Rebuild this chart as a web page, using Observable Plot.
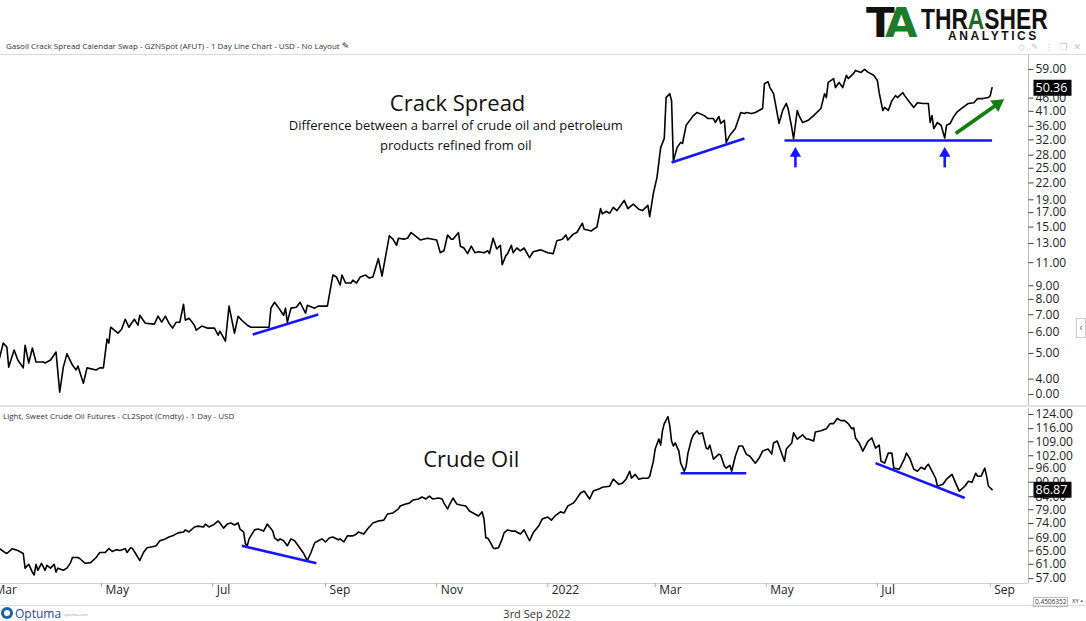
<!DOCTYPE html>
<html>
<head>
<meta charset="utf-8">
<script src="https://cdn.jsdelivr.net/npm/d3@7"></script>
<script src="https://cdn.jsdelivr.net/npm/@observablehq/plot@0.6"></script>
<style>
  body { margin: 0; background: #fff; font-family: "Open Sans", sans-serif; }
  #root { position: relative; width: 1086px; height: 621px; overflow: hidden; background: #fff; }
  .abs { position: absolute; white-space: nowrap; }
  .panel-title { font-size: 8px; color: #333; }
  .hline { position: absolute; left: 0; width: 1086px; height: 1px; background: #dcdcdc; }
  #topChart svg, #bottomChart svg { overflow: visible; }
</style>
</head>
<body>
<div id="root">
  <!-- header -->
  <div class="abs" style="left:866px;top:3px;font:bold 40px 'DejaVu Sans';letter-spacing:-6px;line-height:40px;transform:scaleX(1.05);transform-origin:left top;">
    <span style="color:#111">T</span><span style="color:#1f7a2a">A</span>
  </div>
  <div class="abs" style="left:921px;top:3px;font:bold 30px 'Liberation Sans';line-height:32px;transform:scaleX(0.76);transform-origin:left top;color:#111;">THR<span style="color:#1f6a2a">A</span>SHER</div>
  <div class="abs" style="left:948px;top:29px;font:bold 12px 'Liberation Sans';letter-spacing:2.6px;color:#111;">ANALYTICS</div>
  <div class="abs" style="left:1018px;top:42px;font:9px 'DejaVu Sans';color:#c4c4c4;letter-spacing:6px;">◇✎⋮❐✕</div>
  <div class="abs panel-title" style="left:6px;top:40px;">Gasoil Crack Spread Calendar Swap - GZNSpot (AFUT) - 1 Day Line Chart - USD - No Layout <span style="font-family:'DejaVu Sans';font-size:9px;color:#222">✎</span></div>
  <div class="hline" style="top:54px;"></div>

  <div id="topChart" class="abs" style="left:0;top:55px;"></div>
  <div class="hline" style="top:405px;height:2px;background:#e2e2e2;"></div>
  <div id="bottomChart" class="abs" style="left:0;top:408px;"></div>
  <div class="abs panel-title" style="left:3px;top:410px;">Light, Sweet Crude Oil Futures - CL2Spot (Cmdty) - 1 Day - USD</div>

  <div class="abs" style="left:1076px;top:318px;width:8px;height:18px;border:1px solid #ccc;font:10px 'DejaVu Sans';color:#555;text-align:center;line-height:18px;">‹</div>

  <div class="hline" style="top:605px;"></div>
  <div class="abs" style="left:1033px;top:597px;border:1px solid #bbb;font:6.5px 'Open Sans';color:#333;padding:0 1px;line-height:8px;">0.4506352</div>
  <div class="abs" style="left:1072px;top:597px;font:6px 'Open Sans';color:#333;line-height:8px;">XY ▪</div>

  <!-- footer -->
  <div class="abs" style="left:1px;top:607px;width:12px;height:12px;border-radius:6px;background:#1f5fa8;"></div>
  <div class="abs" style="left:4px;top:610px;width:6px;height:6px;border-radius:3px;background:#fff;"></div>
  <div class="abs" style="left:15px;top:605px;font:12px 'Open Sans';color:#1b4c8c;">Optuma</div>
  <div class="abs" style="left:64px;top:612px;font:4px 'Open Sans';color:#999;">optuma.com</div>
  <div class="abs" style="left:537px;top:606px;transform:translateX(-50%);font:11px 'Open Sans';color:#333;">3rd Sep 2022</div>
</div>

<script>
// ---------------- DATA ----------------
const xDomain = ["2021-03-06T12:00:00Z", "2022-09-22T00:00:00Z"];

const xTicks = ["2021-03-01","2021-05-01","2021-07-01","2021-09-01","2021-11-01","2022-01-01","2022-03-01","2022-05-01","2022-07-01","2022-09-01"];
const xTickLabels = ["Mar","May","Jul","Sep","Nov","2022","Mar","May","Jul","Sep"];

const crackDomain = [3.18, 66.6];
const crackTicks = [59,46,41,36,32,28,25,22,19,17,15,13,11,9,8,7,6,5,4,3.5];
const crackTickLabels = ["59.00","46.00","41.00","36.00","32.00","28.00","25.00","22.00","19.00","17.00","15.00","13.00","11.00","9.00","8.00","7.00","6.00","5.00","4.00","0.00"];

const crudeDomain = [55.7, 127.6];
const crudeTicks = [124,116,109,102,96,90,84,79,74,69,65,61,57];
const crudeTickLabels = ["124.00","116.00","109.00","102.00","96.00","90.00","84.00","79.00","74.00","69.00","65.00","61.00","57.00"];

// Gasoil crack spread (date, USD)
const crackSpread = [
["2021-03-06",4.81],["2021-03-08",5.47],["2021-03-10",5.28],["2021-03-11",4.44],["2021-03-14",5.15],
["2021-03-16",4.72],["2021-03-19",4.41],["2021-03-20",5.37],["2021-03-22",4.60],["2021-03-24",5.24],
["2021-03-26",4.64],["2021-03-30",4.64],["2021-03-31",4.60],["2021-04-03",4.72],["2021-04-06",5.06],
["2021-04-08",3.57],["2021-04-10",4.44],["2021-04-12",4.98],["2021-04-15",4.52],["2021-04-17",4.33],
["2021-04-18",4.48],["2021-04-21",3.86],["2021-04-23",4.41],["2021-04-28",4.33],["2021-04-30",4.41],
["2021-05-02",4.41],["2021-05-04",5.66],["2021-05-05",5.47],["2021-05-06",6.28],["2021-05-10",5.96],
["2021-05-12",6.17],["2021-05-14",6.73],["2021-05-16",6.28],["2021-05-19",6.73],["2021-05-21",6.39],
["2021-05-22",6.97],["2021-05-25",6.50],["2021-05-30",6.45],["2021-06-01",6.91],["2021-06-03",6.56],
["2021-06-05",6.91],["2021-06-07",6.50],["2021-06-09",6.23],["2021-06-11",6.56],["2021-06-13",6.56],
["2021-06-15",7.67],["2021-06-16",6.67],["2021-06-18",6.79],["2021-06-21",6.39],["2021-06-22",6.12],
["2021-06-25",6.34],["2021-06-28",6.23],["2021-07-02",6.23],["2021-07-04",5.86],["2021-07-05",6.07],
["2021-07-08",5.56],["2021-07-10",7.54],["2021-07-13",5.96],["2021-07-15",6.91],["2021-07-17",6.67],
["2021-07-20",6.39],["2021-07-22",6.28],["2021-07-25",6.28],["2021-07-29",6.28],["2021-08-01",6.28],
["2021-08-02",7.41],["2021-08-04",7.80],["2021-08-06",7.47],["2021-08-09",6.97],["2021-08-10",7.41],
["2021-08-11",6.56],["2021-08-13",7.41],["2021-08-16",7.47],["2021-08-18",7.80],["2021-08-21",7.09],
["2021-08-22",7.60],["2021-08-26",7.41],["2021-08-28",7.54],["2021-09-02",7.54],["2021-09-05",9.88],
["2021-09-07",9.71],["2021-09-09",9.06],["2021-09-10",9.88],["2021-09-12",9.22],["2021-09-15",9.22],
["2021-09-16",9.46],["2021-09-18",9.22],["2021-09-20",9.71],["2021-09-23",9.88],["2021-09-25",9.63],
["2021-09-27",9.71],["2021-09-30",11.4],["2021-10-02",9.80],["2021-10-06",13.9],["2021-10-08",13.5],
["2021-10-10",12.8],["2021-10-11",13.6],["2021-10-14",13.5],["2021-10-16",13.6],["2021-10-18",14.3],
["2021-10-22",13.6],["2021-10-23",13.4],["2021-10-27",13.6],["2021-11-01",13.4],["2021-11-03",12.0],
["2021-11-05",12.2],["2021-11-07",14.0],["2021-11-09",13.5],["2021-11-10",13.5],["2021-11-13",14.3],
["2021-11-14",12.7],["2021-11-16",12.5],["2021-11-18",11.9],["2021-11-20",12.7],["2021-11-22",12.0],
["2021-11-24",12.1],["2021-11-27",12.0],["2021-11-29",12.2],["2021-11-30",11.9],["2021-12-02",13.6],
["2021-12-04",12.4],["2021-12-06",12.8],["2021-12-07",10.8],["2021-12-09",11.7],["2021-12-10",11.9],
["2021-12-12",12.8],["2021-12-13",12.0],["2021-12-15",12.5],["2021-12-17",12.2],["2021-12-19",12.5],
["2021-12-22",11.5],["2021-12-24",12.1],["2021-12-28",12.3],["2022-01-01",12.0],["2022-01-04",11.9],
["2022-01-06",13.3],["2022-01-09",13.5],["2022-01-11",14.0],["2022-01-12",13.4],["2022-01-15",14.1],
["2022-01-17",14.3],["2022-01-20",15.5],["2022-01-21",14.7],["2022-01-25",14.5],["2022-01-26",14.7],
["2022-01-28",15.0],["2022-01-30",17.6],["2022-01-31",16.8],["2022-02-02",17.2],["2022-02-04",16.9],
["2022-02-06",17.8],["2022-02-08",17.3],["2022-02-12",18.9],["2022-02-14",17.6],["2022-02-17",18.3],
["2022-02-20",17.5],["2022-02-22",17.3],["2022-02-25",18.1],["2022-02-26",16.4],["2022-02-28",20.1],
["2022-03-02",23.1],["2022-03-04",29.9],["2022-03-06",32.4],["2022-03-07",46.2],["2022-03-09",47.8],
["2022-03-10",45.0],["2022-03-11",26.6],["2022-03-13",29.9],["2022-03-15",31.3],["2022-03-16",31.0],
["2022-03-18",36.3],["2022-03-20",37.9],["2022-03-22",39.5],["2022-03-24",40.6],["2022-03-28",39.5],
["2022-03-30",38.5],["2022-04-02",38.5],["2022-04-03",37.2],["2022-04-05",39.2],["2022-04-06",36.9],
["2022-04-08",37.9],["2022-04-09",31.3],["2022-04-11",33.3],["2022-04-14",35.3],["2022-04-17",40.6],
["2022-04-19",40.2],["2022-04-20",40.6],["2022-04-23",40.2],["2022-04-25",40.6],["2022-04-29",42.0],
["2022-04-30",52.1],["2022-05-02",53.1],["2022-05-03",50.4],["2022-05-05",47.8],["2022-05-06",43.9],
["2022-05-08",36.9],["2022-05-10",41.3],["2022-05-12",43.9],["2022-05-13",42.0],["2022-05-15",35.6],
["2022-05-16",32.3],["2022-05-18",41.3],["2022-05-19",39.5],["2022-05-21",37.2],["2022-05-24",37.9],
["2022-05-27",39.5],["2022-05-31",42.0],["2022-06-02",47.8],["2022-06-03",46.2],["2022-06-04",52.7],
["2022-06-07",54.5],["2022-06-08",50.4],["2022-06-10",52.7],["2022-06-12",50.4],["2022-06-14",56.1],
["2022-06-15",54.5],["2022-06-18",57.0],["2022-06-19",58.5],["2022-06-22",57.5],["2022-06-24",59.0],
["2022-06-26",57.5],["2022-06-29",56.1],["2022-07-01",53.6],["2022-07-02",48.2],["2022-07-04",41.3],
["2022-07-05",42.4],["2022-07-07",41.3],["2022-07-09",45.0],["2022-07-11",47.0],["2022-07-12",46.2],
["2022-07-15",48.2],["2022-07-16",47.0],["2022-07-18",45.0],["2022-07-21",42.4],["2022-07-23",44.2],
["2022-07-26",43.9],["2022-07-29",43.9],["2022-07-30",37.2],["2022-07-31",39.5],["2022-08-01",35.3],
["2022-08-03",37.2],["2022-08-05",36.3],["2022-08-07",32.5],["2022-08-08",36.3],["2022-08-10",36.9],
["2022-08-12",39.2],["2022-08-14",40.9],["2022-08-17",42.4],["2022-08-20",43.9],["2022-08-23",44.2],
["2022-08-25",45.8],["2022-08-28",45.8],["2022-08-31",46.2],["2022-09-01",47.0],["2022-09-02",50.36]
];

// Light sweet crude oil futures (date, USD)
const crudeOil = [
["2021-03-06",65.7],["2021-03-09",64.5],["2021-03-10",64.2],["2021-03-13",65.7],["2021-03-16",65.1],
["2021-03-19",64.2],["2021-03-20",59.9],["2021-03-22",61.0],["2021-03-24",58.8],["2021-03-25",58.0],
["2021-03-26",61.0],["2021-03-27",59.3],["2021-03-29",61.3],["2021-03-31",59.3],["2021-04-01",60.7],
["2021-04-03",59.9],["2021-04-05",61.0],["2021-04-06",58.8],["2021-04-07",59.9],["2021-04-10",59.3],
["2021-04-12",59.9],["2021-04-14",61.5],["2021-04-15",63.0],["2021-04-18",63.0],["2021-04-19",62.7],
["2021-04-22",61.3],["2021-04-25",61.5],["2021-04-28",63.0],["2021-04-30",64.5],["2021-05-03",64.5],
["2021-05-05",65.7],["2021-05-07",64.8],["2021-05-09",65.4],["2021-05-11",65.1],["2021-05-14",65.7],
["2021-05-15",64.5],["2021-05-17",66.0],["2021-05-18",65.7],["2021-05-20",63.9],["2021-05-22",62.1],
["2021-05-24",64.5],["2021-05-26",66.0],["2021-05-29",66.3],["2021-05-31",66.6],["2021-06-02",68.2],
["2021-06-05",68.8],["2021-06-07",69.4],["2021-06-09",69.8],["2021-06-12",70.8],["2021-06-15",71.1],
["2021-06-16",71.8],["2021-06-18",71.1],["2021-06-21",72.8],["2021-06-23",73.1],["2021-06-26",72.8],
["2021-06-27",73.8],["2021-06-29",72.8],["2021-07-02",73.8],["2021-07-04",74.9],["2021-07-05",74.2],
["2021-07-07",72.4],["2021-07-09",73.8],["2021-07-11",74.2],["2021-07-13",73.5],["2021-07-15",74.2],
["2021-07-16",72.1],["2021-07-18",71.1],["2021-07-19",67.2],["2021-07-20",66.6],["2021-07-21",68.8],
["2021-07-24",71.8],["2021-07-26",72.1],["2021-07-29",71.4],["2021-07-31",73.8],["2021-08-03",71.4],
["2021-08-04",69.1],["2021-08-06",68.2],["2021-08-07",68.8],["2021-08-09",68.2],["2021-08-11",66.6],
["2021-08-13",68.8],["2021-08-15",68.2],["2021-08-17",66.6],["2021-08-20",64.2],["2021-08-22",62.1],
["2021-08-24",64.5],["2021-08-26",67.5],["2021-08-28",68.2],["2021-08-30",68.8],["2021-09-01",67.8],
["2021-09-03",69.1],["2021-09-05",69.4],["2021-09-08",68.5],["2021-09-09",68.8],["2021-09-11",67.8],
["2021-09-13",69.8],["2021-09-16",69.8],["2021-09-18",70.4],["2021-09-19",71.1],["2021-09-22",70.4],
["2021-09-24",72.1],["2021-09-27",74.2],["2021-09-30",74.9],["2021-10-03",75.2],["2021-10-05",77.4],
["2021-10-08",77.8],["2021-10-11",79.3],["2021-10-12",80.4],["2021-10-15",81.2],["2021-10-17",81.5],
["2021-10-19",82.7],["2021-10-22",83.1],["2021-10-24",83.9],["2021-10-26",83.1],["2021-10-28",84.3],
["2021-10-30",83.1],["2021-11-02",83.5],["2021-11-04",83.1],["2021-11-05",81.5],["2021-11-07",79.3],
["2021-11-08",80.8],["2021-11-10",83.5],["2021-11-12",81.2],["2021-11-14",80.8],["2021-11-17",80.4],
["2021-11-19",78.5],["2021-11-21",77.8],["2021-11-24",76.7],["2021-11-26",78.2],["2021-11-27",75.6],
["2021-11-28",69.1],["2021-11-29",69.1],["2021-11-30",68.2],["2021-12-02",66.0],["2021-12-03",65.7],
["2021-12-05",66.0],["2021-12-07",68.8],["2021-12-08",70.8],["2021-12-10",71.8],["2021-12-12",71.4],
["2021-12-14",71.4],["2021-12-17",70.4],["2021-12-19",71.8],["2021-12-22",68.2],["2021-12-24",70.8],
["2021-12-27",73.1],["2021-12-29",75.6],["2022-01-01",76.3],["2022-01-03",75.2],["2022-01-05",76.7],
["2022-01-08",78.2],["2022-01-10",77.8],["2022-01-12",80.4],["2022-01-15",81.5],["2022-01-16",82.3],
["2022-01-19",85.5],["2022-01-21",86.3],["2022-01-24",83.1],["2022-01-26",86.3],["2022-01-29",87.1],
["2022-01-31",87.9],["2022-02-04",88.3],["2022-02-06",91.3],["2022-02-09",89.1],["2022-02-11",89.6],
["2022-02-13",91.3],["2022-02-15",94.8],["2022-02-16",91.7],["2022-02-18",93.4],["2022-02-20",91.3],
["2022-02-22",91.7],["2022-02-25",91.7],["2022-02-26",92.6],["2022-02-28",99.4],["2022-03-01",105.3],
["2022-03-03",110.4],["2022-03-04",107.3],["2022-03-05",114.8],["2022-03-06",118.8],["2022-03-08",122.8],
["2022-03-09",117.7],["2022-03-10",109.4],["2022-03-11",106.8],["2022-03-12",108.4],["2022-03-14",104.3],
["2022-03-15",98.5],["2022-03-17",94.8],["2022-03-18",97.1],["2022-03-19",103.3],["2022-03-21",110.4],
["2022-03-22",112.6],["2022-03-24",114.8],["2022-03-25",113.1],["2022-03-27",113.7],["2022-03-29",105.8],
["2022-03-30",105.3],["2022-03-31",107.3],["2022-04-02",100.4],["2022-04-05",102.8],["2022-04-06",102.3],
["2022-04-08",97.1],["2022-04-09",96.2],["2022-04-11",97.5],["2022-04-12",94.8],["2022-04-14",101.8],
["2022-04-16",106.8],["2022-04-18",106.8],["2022-04-20",102.8],["2022-04-22",101.8],["2022-04-25",98.5],
["2022-04-27",100.8],["2022-04-29",104.3],["2022-05-02",105.3],["2022-05-04",102.8],["2022-05-05",108.4],
["2022-05-07",109.4],["2022-05-11",99.4],["2022-05-12",105.3],["2022-05-15",108.4],["2022-05-16",113.7],
["2022-05-18",110.4],["2022-05-21",112.6],["2022-05-23",110.4],["2022-05-24",110.4],["2022-05-27",109.4],
["2022-05-28",114.2],["2022-05-31",114.8],["2022-06-03",115.9],["2022-06-05",118.8],["2022-06-07",118.8],
["2022-06-09",121.7],["2022-06-11",120.5],["2022-06-13",120.5],["2022-06-15",118.8],["2022-06-17",115.9],
["2022-06-18",116.5],["2022-06-19",111.0],["2022-06-21",108.4],["2022-06-23",104.3],["2022-06-26",109.4],
["2022-06-28",111.0],["2022-06-29",108.4],["2022-06-30",105.8],["2022-07-02",107.3],["2022-07-03",99.4],
["2022-07-05",98.5],["2022-07-07",103.3],["2022-07-09",103.3],["2022-07-10",96.2],["2022-07-13",95.7],
["2022-07-16",100.8],["2022-07-17",103.3],["2022-07-19",100.4],["2022-07-21",95.7],["2022-07-23",94.8],
["2022-07-25",96.6],["2022-07-27",95.7],["2022-07-28",97.1],["2022-07-29",98.0],["2022-07-31",94.8],
["2022-08-02",91.7],["2022-08-03",88.3],["2022-08-06",89.1],["2022-08-08",91.3],["2022-08-11",93.4],
["2022-08-13",89.6],["2022-08-15",86.3],["2022-08-18",88.3],["2022-08-20",90.4],["2022-08-22",90.0],
["2022-08-24",93.9],["2022-08-25",92.6],["2022-08-27",92.6],["2022-08-29",96.2],["2022-08-30",92.6],
["2022-08-31",88.3],["2022-09-02",86.87]
];

// Annotations (data coordinates)
const crackTrendLines = [
  {x1:"2021-07-23", y1:5.89, x2:"2021-08-28", y2:7.01},
  {x1:"2022-03-10", y1:26.3, x2:"2022-04-19", y2:32.4},
  {x1:"2022-05-11", y1:31.8, x2:"2022-09-02", y2:31.8}
];
const crackUpArrows = [
  {date:"2022-05-17", from:25.2, to:28.4},
  {date:"2022-08-07", from:25.2, to:28.4}
];
const crackGreenArrow = [{x1:"2022-08-13", y1:33.8, x2:"2022-09-05", y2:43.7}];
const crackTitle = [{date:"2021-11-12T12:00:00Z", value:43.9, text:"Crack Spread"}];
const crackSubtitle = [
  {date:"2021-11-11T12:00:00Z", value:36.3, text:"Difference between a barrel of crude oil and petroleum"},
  {date:"2021-11-11T12:00:00Z", value:30.4, text:"products refined from oil"}
];

const crudeTrendLines = [
  {x1:"2021-07-17", y1:66.6, x2:"2021-08-27", y2:61.3},
  {x1:"2022-03-15", y1:93.9, x2:"2022-04-20", y2:93.9},
  {x1:"2022-06-30", y1:98.5, x2:"2022-08-18", y2:83.5}
];
const crudeTitle = [{date:"2021-11-20", value:100.2, text:"Crude Oil"}];

// ---------------- RENDER ----------------
const BLUE = "#1515ff", GREEN = "#118011";
const dt = s => new Date(s);
const xDom = xDomain.map(dt);
const xTickDates = xTicks.map(dt);
const boxSymbol = { draw(ctx) { ctx.moveTo(-19,-8); ctx.lineTo(19,-8); ctx.lineTo(19,8); ctx.lineTo(-19,8); ctx.closePath(); } };
const dashSymbol = { draw(ctx) { ctx.moveTo(0,0); ctx.lineTo(5,0); } };
const font = "Open Sans";

// right-hand value axis: tick dashes + labels
function yAxis(ticks, labels) {
  const table = ticks.map((v, i) => ({v, label: labels[i]}));
  return [
    Plot.dot(table, {y: "v", frameAnchor: "right", symbol: dashSymbol, r: 1, stroke: "#444", fill: "none", strokeWidth: 1}),
    Plot.text(table, {y: "v", frameAnchor: "right", dx: 7, textAnchor: "start", text: "label", fontSize: 12, fill: "#222"})
  ];
}
function lastBox(series) {
  const last = [series[series.length - 1]];
  return [
    Plot.dot(last, {y: d => d[1], frameAnchor: "right", dx: 24, symbol: boxSymbol, r: 1, fill: "#000", stroke: null}),
    Plot.text(last, {y: d => d[1], frameAnchor: "right", dx: 7, textAnchor: "start", text: d => d[1].toFixed(2), fill: "#fff", fontSize: 12.5})
  ];
}

const topPlot = Plot.plot({
  width: 1086, height: 350,
  marginTop: 0, marginBottom: 0, marginLeft: 0, marginRight: 58,
  style: {fontFamily: font, background: "transparent", color: "#222", overflow: "visible"},
  x: {type: "utc", domain: xDom, axis: null},
  y: {type: "log", domain: crackDomain, axis: null},
  marks: [
    Plot.ruleX([xDom[1]], {stroke: "#bdbdbd"}),
    ...yAxis(crackTicks, crackTickLabels),
    Plot.line(crackSpread, {x: d => dt(d[0]), y: d => d[1], stroke: "#000", strokeWidth: 1.6, strokeLinejoin: "round"}),
    Plot.link(crackTrendLines, {x1: d => dt(d.x1), y1: "y1", x2: d => dt(d.x2), y2: "y2", stroke: BLUE, strokeWidth: 2.6}),
    Plot.link(crackUpArrows, {x1: d => dt(d.date), y1: "from", x2: d => dt(d.date), y2: "to", stroke: BLUE, strokeWidth: 2.6}),
    Plot.dot(crackUpArrows, {x: d => dt(d.date), y: "to", symbol: "triangle", r: 4.2, fill: BLUE, stroke: null}),
    Plot.link(crackGreenArrow, {x1: d => dt(d.x1), y1: "y1", x2: d => dt(d.x2), y2: "y2", stroke: GREEN, strokeWidth: 3.8}),
    Plot.dot(crackGreenArrow, {x: d => dt(d.x2), y: "y2", symbol: "triangle", r: 5.2, rotate: 55, fill: GREEN, stroke: null}),
    Plot.text(crackTitle, {x: d => dt(d.date), y: "value", text: "text", fontSize: 22, fill: "#111"}),
    Plot.text(crackSubtitle, {x: d => dt(d.date), y: "value", text: "text", fontSize: 13, fill: "#111"}),
    ...lastBox(crackSpread)
  ]
});
document.getElementById("topChart").appendChild(topPlot);

const bottomPlot = Plot.plot({
  width: 1086, height: 197,
  marginTop: 0, marginBottom: 22, marginLeft: 0, marginRight: 58,
  style: {fontFamily: font, background: "transparent", color: "#222", overflow: "visible"},
  x: {type: "utc", domain: xDom, axis: null},
  y: {type: "log", domain: crudeDomain, axis: null},
  marks: [
    Plot.ruleX([xDom[1]], {stroke: "#bdbdbd"}),
    Plot.ruleY([crudeDomain[0]], {stroke: "#cfcfcf"}),
    ...yAxis(crudeTicks, crudeTickLabels),
    Plot.axisX(xTickDates, {anchor: "bottom", tickSize: 4, stroke: "#aaa", tickFormat: () => ""}),
    Plot.axisX(xTickDates, {anchor: "bottom", tickSize: 0, tickPadding: 2, textAnchor: "start", dx: 4, fontSize: 12, fill: "#222",
      tickFormat: d => xTickLabels[xTickDates.findIndex(t => +t === +d)]}),
    Plot.line(crudeOil, {x: d => dt(d[0]), y: d => d[1], stroke: "#000", strokeWidth: 1.6, strokeLinejoin: "round"}),
    Plot.link(crudeTrendLines, {x1: d => dt(d.x1), y1: "y1", x2: d => dt(d.x2), y2: "y2", stroke: BLUE, strokeWidth: 2.6}),
    Plot.text(crudeTitle, {x: d => dt(d.date), y: "value", text: "text", fontSize: 22, fill: "#111"}),
    ...lastBox(crudeOil)
  ]
});
document.getElementById("bottomChart").appendChild(bottomPlot);
</script>
</body>
</html>
